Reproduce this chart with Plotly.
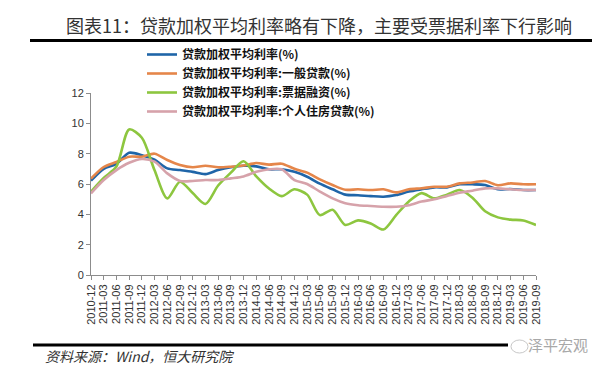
import plotly.graph_objects as go

dates = ["2010-12",
         "2011-03", "2011-06", "2011-09", "2011-12",
         "2012-03", "2012-06", "2012-09", "2012-12",
         "2013-03", "2013-06", "2013-09", "2013-12",
         "2014-03", "2014-06", "2014-09", "2014-12",
         "2015-03", "2015-06", "2015-09", "2015-12",
         "2016-03", "2016-06", "2016-09", "2016-12",
         "2017-03", "2017-06", "2017-09", "2017-12",
         "2018-03", "2018-06", "2018-09", "2018-12",
         "2019-03", "2019-06", "2019-09"]

avg_rate = [6.22, 7.0, 7.33, 8.06, 7.9, 7.6, 7.03, 6.92, 6.8, 6.65, 6.92, 7.1, 7.2,
            7.16, 6.97, 6.97, 6.8, 6.48, 6.02, 5.65, 5.3, 5.26, 5.2, 5.16, 5.27,
            5.5, 5.65, 5.78, 5.78, 5.98, 5.98, 5.93, 5.65, 5.67, 5.6, 5.6]
general_rate = [6.35, 7.12, 7.45, 7.8, 7.8, 8.0, 7.58, 7.25, 7.1, 7.2, 7.1, 7.14, 7.22,
                7.38, 7.28, 7.34, 7.0, 6.75, 6.3, 5.93, 5.62, 5.65, 5.6, 5.65, 5.45,
                5.65, 5.72, 5.82, 5.82, 6.04, 6.1, 6.2, 5.92, 6.04, 5.98, 5.98]
bill_rate = [5.5, 6.4, 7.15, 9.6, 9.05, 6.9, 5.05, 6.15, 5.4, 4.68, 5.9, 6.75, 7.5,
             6.5, 5.7, 5.2, 5.65, 5.3, 3.95, 4.3, 3.3, 3.6, 3.4, 3.0, 3.95,
             4.85, 5.4, 5.05, 5.3, 5.6, 5.1, 4.2, 3.8, 3.65, 3.6, 3.3]
mortgage_rate = [5.38, 6.26, 6.92, 7.4, 7.65, 7.47, 6.7, 6.2, 6.2, 6.26, 6.26, 6.37, 6.5,
                 6.8, 6.97, 6.97, 6.26, 6.0, 5.5, 5.05, 4.73, 4.6, 4.55, 4.5, 4.5,
                 4.6, 4.84, 4.99, 5.21, 5.43, 5.56, 5.71, 5.71, 5.65, 5.6, 5.6]

series_names = ["贷款加权平均利率(%)",
                "贷款加权平均利率:一般贷款(%)",
                "贷款加权平均利率:票据融资(%)",
                "贷款加权平均利率:个人住房贷款(%)"]
series_values = [avg_rate, general_rate, bill_rate, mortgage_rate]
series_colors = ["#1F65A8", "#E5864A", "#8DC63F", "#D6A2AA"]

y_ticks = [0, 2, 4, 6, 8, 10, 12]

W, H = 600, 369
L, R, T, B = 83, 72, 85, 102
pw, ph = W - L - R, H - T - B


def px_x(p):
    return (p - L) / pw


def px_y(p):
    return (H - B - p) / ph


fig = go.Figure()
for name, vals, col in zip(series_names, series_values, series_colors):
    fig.add_trace(go.Scatter(x=dates, y=vals, name=name, mode="lines",
                             line=dict(color=col, width=2.6, shape="spline", smoothing=0.8)))

fig.update_layout(
    width=W, height=H,
    margin=dict(l=L, r=R, t=T, b=B),
    paper_bgcolor="white", plot_bgcolor="white",
    font=dict(family="Liberation Sans, Arial, sans-serif", color="#333333"),
    showlegend=True,
    legend=dict(x=px_x(134), y=px_y(32), xanchor="left", yanchor="top",
                bgcolor="rgba(0,0,0,0)", tracegroupgap=0, itemwidth=30,
                font=dict(family="Noto Sans CJK SC", size=12, color="#111111", weight="bold")),
    xaxis=dict(type="category", range=[0, len(dates) - 1], showgrid=False,
               tickmode="array", tickvals=dates, ticktext=dates,
               showline=True, linecolor="#8c8c8c", linewidth=1,
               ticks="outside", ticklen=4, tickcolor="#8c8c8c",
               tickangle=-90, tickfont=dict(size=11, color="#333333"),
               zeroline=False),
    yaxis=dict(range=[0, 12], tickvals=y_ticks, showgrid=False,
               showline=True, linecolor="#8c8c8c", linewidth=1,
               ticks="outside", ticklen=4, tickcolor="#8c8c8c",
               tickfont=dict(size=11, color="#333333"), zeroline=False),
)

# title and rules
fig.add_annotation(text="图表11：贷款加权平均利率略有下降，主要受票据利率下行影响",
                   x=px_x(311), y=px_y(17), xref="paper", yref="paper",
                   showarrow=False, xanchor="center", yanchor="middle",
                   font=dict(family="Noto Sans CJK SC", size=18, color="#333333"))
fig.add_shape(type="line", xref="paper", yref="paper",
              x0=px_x(22), x1=px_x(585), y0=px_y(32.5), y1=px_y(32.5),
              line=dict(color="black", width=3))
fig.add_shape(type="line", xref="paper", yref="paper",
              x0=px_x(25), x1=px_x(500), y0=px_y(337), y1=px_y(337),
              line=dict(color="black", width=3))
fig.add_annotation(text="<i>资料来源：Wind，恒大研究院</i>",
                   x=px_x(35), y=px_y(348), xref="paper", yref="paper",
                   showarrow=False, xanchor="left", yanchor="middle",
                   font=dict(family="Noto Sans CJK SC", size=14, color="#333333"))
fig.add_annotation(text="泽平宏观",
                   x=px_x(582), y=px_y(336), xref="paper", yref="paper",
                   showarrow=False, xanchor="right", yanchor="middle",
                   font=dict(family="Noto Sans CJK SC", size=15, color="#a8a8a8"))
fig.add_shape(type="circle", xref="paper", yref="paper",
              x0=px_x(503), x1=px_x(520), y0=px_y(345), y1=px_y(332),
              line=dict(color="#c8c8c8", width=1), fillcolor="white")

fig.write_html("out.html")
